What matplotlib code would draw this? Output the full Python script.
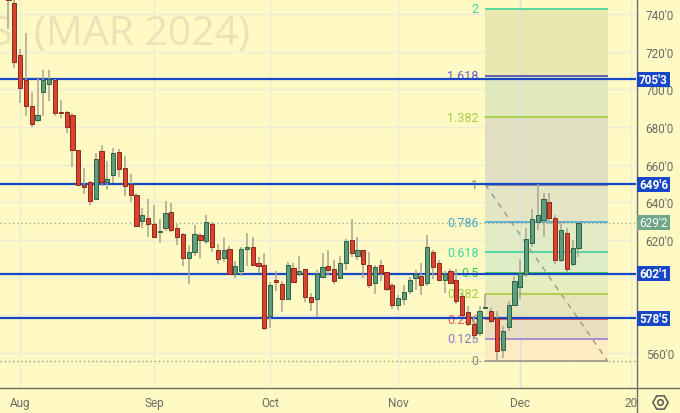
import matplotlib
matplotlib.use("Agg")
import matplotlib.pyplot as plt
from matplotlib.patches import Rectangle

plt.rcParams['font.family'] = ['Roboto', 'DejaVu Sans']

highs = [750,748,721.4,729.9,698.5,706.4,710.3,710.3,705.5,694.4,688.4,687.3,667.7,658.2,651.5,666.1,670.6,661.9,668.8,668.4,
         664.6,655.2,645.1,637.3,641.9,638.9,631,640.7,639.5,628.8,623.9,617.3,627.8,623.9,633.6,629.5,618.2,621.7,616.8,608.8,
         616.4,623.9,621.4,611.1,613.2,597.6,603.5,598.2,608.6,607.9,611.5,604.7,592,604,613.2,614.5,609.3,611.5,620.7,631,
         621.7,615,613.6,607,609.2,603.3,597.3,591,596.4,600.5,604,607.9,622.5,614.6,609.2,603.5,604.7,604.7,592,585.2,
         579.5,585.2,591.6,584,582.2,574.2,587.5,600.8,610,626.5,636.3,649.6,645.1,645.1,633.4,630,626.5,619.9,630]
opens = [748,745.8,718.4,705,691,683.8,698.5,702.7,704.8,687.9,687.9,686.3,667.7,649.5,650.8,641.8,667.2,651,654.5,666.9,
         658.2,649.9,643.9,630.1,631.8,628.8,624.4,626.2,634.9,626.5,623,610.6,613.6,622.5,619.4,628.8,614.7,610.6,615.4,602.2,
         603.5,615.2,616.2,607.9,606.8,579.9,598.7,596.7,588.8,605.4,601.9,604.5,589.8,588.8,600.3,606,604.9,599.9,607.7,620.1,
         611.6,614.6,606.8,597,606.8,603.1,596.2,585.6,588.8,592.8,599.8,601,597.1,613.8,607.9,598.9,603.8,598.6,590.2,581.7,
         575.4,570.7,583.8,582.4,578.5,561.8,573.7,585.7,595.1,601.9,618.5,629.5,630.9,640.5,631.8,609.7,623.9,607.5,615.7]
closes = [747.6,714.7,700.9,691,681.9,686.3,704.8,705.4,687.7,687.5,679.9,667.6,649.2,648,640.9,663,651.1,652.4,666,658,
          648.7,644.2,627.4,633.4,628.3,621.9,625.1,634.3,625.3,621.6,610.7,613.8,623.5,620,629.4,616.6,610.2,614.8,602.2,606.5,
          615.2,616.2,606.7,606.1,573.5,596.2,597.6,588.8,606.8,598,603.5,589.6,587.2,601.9,605.8,604.4,598.5,607.9,619.6,613,
          614.8,607.2,596,605.8,602.4,593.9,585.4,589.3,592.5,599,602.2,596,616.2,605.8,599,602.2,597.4,587.6,580.4,575.4,
          569.9,582.4,584.5,576.9,560.9,571.7,585.7,598.2,602.4,620.7,631.3,633.4,641.9,631.7,609.3,625.4,604.7,615.7,629.2]
lows = [732,711.2,692.8,686.1,680.1,682.6,686.1,694,686.1,685,676.9,658.6,648.7,644.4,638.4,641.2,648.7,646.5,650.4,653.5,
        643.5,640.2,627.4,626.7,621.4,621.7,618.4,624.8,624.4,617.3,606.1,596.9,611.5,610.4,618.2,613.6,607.2,608.6,601.8,599.9,
        600.8,606.1,606.4,602.6,572.1,573.5,592.8,581.7,588.6,597.3,601.2,587,582.6,579.2,599.8,600.8,596.9,599.7,604,611.1,
        609.3,600.1,594.8,591.4,598.2,592.8,583.6,583.1,585.6,591.6,593.4,591.1,595.5,599.4,598.6,592,596.9,585.9,579.5,574.2,
        567.1,568.9,583.8,576,556.5,557.2,571.5,585.2,588.9,600.5,616.4,625.6,621.7,628.8,607.2,608.3,602.5,606.5,611.1]

month_pos = [2, 25, 45, 67, 88, 107]
month_labels = ['Aug', 'Sep', 'Oct', 'Nov', 'Dec', '20']
grid_prices = [740, 720, 700, 680, 660, 640, 620, 600, 580, 560]
price_labels = ["740'0", "720'0", "700'0", "680'0", "660'0", "640'0", "620'0", "", "", "560'0"]

fib_low = 555.9
fib_high = 649.4
fib_levels = [0, 0.125, 0.236, 0.382, 0.5, 0.618, 0.786, 1, 1.382, 1.618, 2]
fib_names = ['0', '0.125', '0.236', '0.382', '0.5', '0.618', '0.786', '1', '1.382', '1.618', '2']
fib_line_colors = ['#9a9a90', '#9B7FD0', '#E04848', '#A5CE3C', '#2FCB3C', '#3CD6A0', '#4BA8D0', '#8a8a80', '#A5CE3C', '#4A4AB0', '#3CD6A0']
fib_text_colors = ['#8a8a80', '#8F78D0', '#E05858', '#A5CE3C', '#2FCB3C', '#3CD6A0', '#4BA8D0', '#8a8a80', '#A5CE3C', '#6A5ACD', '#3CD6A0']
fib_fills = ['#FDEBC2', '#E9DFBF', '#E7E4BC', '#E6EDBF', '#DEEDC6', '#E2EAC6', '#E3E5C4', '#E0DFC2', '#E0E8BE', '#E9E8B0']
fib_start, fib_end = 82, 103

levels_blue = [705.375, 649.75, 602.125, 578.625]
levels_blue_labels = ["705'3", "649'6", "602'1", "578'5"]
last_price = 629.25
last_label = "629'2"

BG = '#FFF9C4'
GRID = '#EEECD8'
TXT = '#6B6B66'
BLUE = '#1747C8'

fig = plt.figure(figsize=(6.8, 4.14), dpi=100, facecolor=BG)
ax = fig.add_axes([0, 25 / 414, 636 / 680, 389 / 414], facecolor=BG)
ax.set_xlim(-1.46, 107.9)
ax.set_ylim(541.5, 748)

ax.set_xticks(month_pos)
ax.set_xticklabels(month_labels, fontsize=8.5, color=TXT)
ax.set_yticks(grid_prices)
ax.set_yticklabels(price_labels, fontsize=8.5, color=TXT)
ax.yaxis.tick_right()
ax.tick_params(axis='both', length=0)
ax.tick_params(axis='x', pad=6)
ax.tick_params(axis='y', pad=7)
ax.grid(True, color=GRID, lw=1.0, zorder=0)
ax.set_axisbelow(True)
for s in ('top', 'left', 'bottom', 'right'):
    ax.spines[s].set_visible(False)

# watermark
ax.text(250 / 636, 1 - 35 / 389, 'S  (MAR 2024)', transform=ax.transAxes, ha='right', va='center',
        family='Open Sans', fontsize=29.5, color='#E9E3B9', zorder=1, clip_on=True)

# fib fills, lines and labels
span = fib_high - fib_low
prices = [fib_low + lv * span for lv in fib_levels]
for lo, hi, c in zip(prices[:-1], prices[1:], fib_fills):
    ax.add_patch(Rectangle((fib_start, lo), fib_end - fib_start, hi - lo, fc=c, ec='none', zorder=1.2))
ax.vlines(88, 541.5, 748, color='#DCE0E4', lw=1.0, zorder=1.3)
for p, c, tc, name in zip(prices, fib_line_colors, fib_text_colors, fib_names):
    ax.hlines(p, fib_start, fib_end, color=c, lw=1.2, zorder=1.5)
    ax.text(fib_start - 1.2, p, name, color=tc, fontsize=9, ha='right', va='center', zorder=1.6)
ax.plot([fib_start, fib_end], [fib_high, fib_low], color='#9a9a90', lw=1.0, dashes=(4, 4), zorder=1.7)

# dotted lines
ax.axhline(last_price, color='#8FAF95', lw=1.0, ls=(0, (1, 2)), zorder=1.8)
ax.axhline(fib_low, color='#9a9a90', lw=1.0, ls=(0, (1, 2)), zorder=1.8)

# blue levels
for lv in levels_blue:
    ax.axhline(lv, color=BLUE, lw=1.6, zorder=2)

# candles
for i, (h, o, c, l) in enumerate(zip(highs, opens, closes, lows)):
    up = c >= o
    ax.vlines(i, l, h, color='#A8A492', lw=1.1, zorder=3)
    ax.add_patch(Rectangle((i - 0.36, min(o, c)), 0.72, max(abs(c - o), 0.4),
                           fc='#5E9C7B' if up else '#DB4331',
                           ec='#2A6347' if up else '#8A2A1C', lw=0.7, zorder=4))

# overlay for the frame, price boxes and settings icon
over = fig.add_axes([0, 0, 1, 1], facecolor='none')
over.set_xlim(0, 680)
over.set_ylim(414, 0)
over.axis('off')
over.plot([0, 680], [389, 389], color='#6e6e66', lw=1.0)
over.plot([636.5, 636.5], [0, 414], color='#6e6e66', lw=1.0)


def price_px(p):
    return ax.transData.transform((0, p))[1]


def box(p, label, color, weight):
    y = 414 - price_px(p)
    over.add_patch(Rectangle((637, y - 7.5), 32.5, 15, fc=color, ec='none', zorder=5))
    over.text(653.5, y, label, color='white', fontsize=8.5, fontweight=weight, ha='center', va='center', zorder=6)


for lv, lab in zip(levels_blue, levels_blue_labels):
    box(lv, lab, BLUE, 'bold')
box(last_price, last_label, '#6FA588', 'normal')

over.plot([660], [403], marker='H', ms=11, mfc='none', mec='#55554f', mew=1.1, ls='none')
over.plot([660], [403], marker='o', ms=4, mfc='none', mec='#55554f', mew=1.1, ls='none')

fig.savefig('out.png', dpi=100, facecolor=BG)
